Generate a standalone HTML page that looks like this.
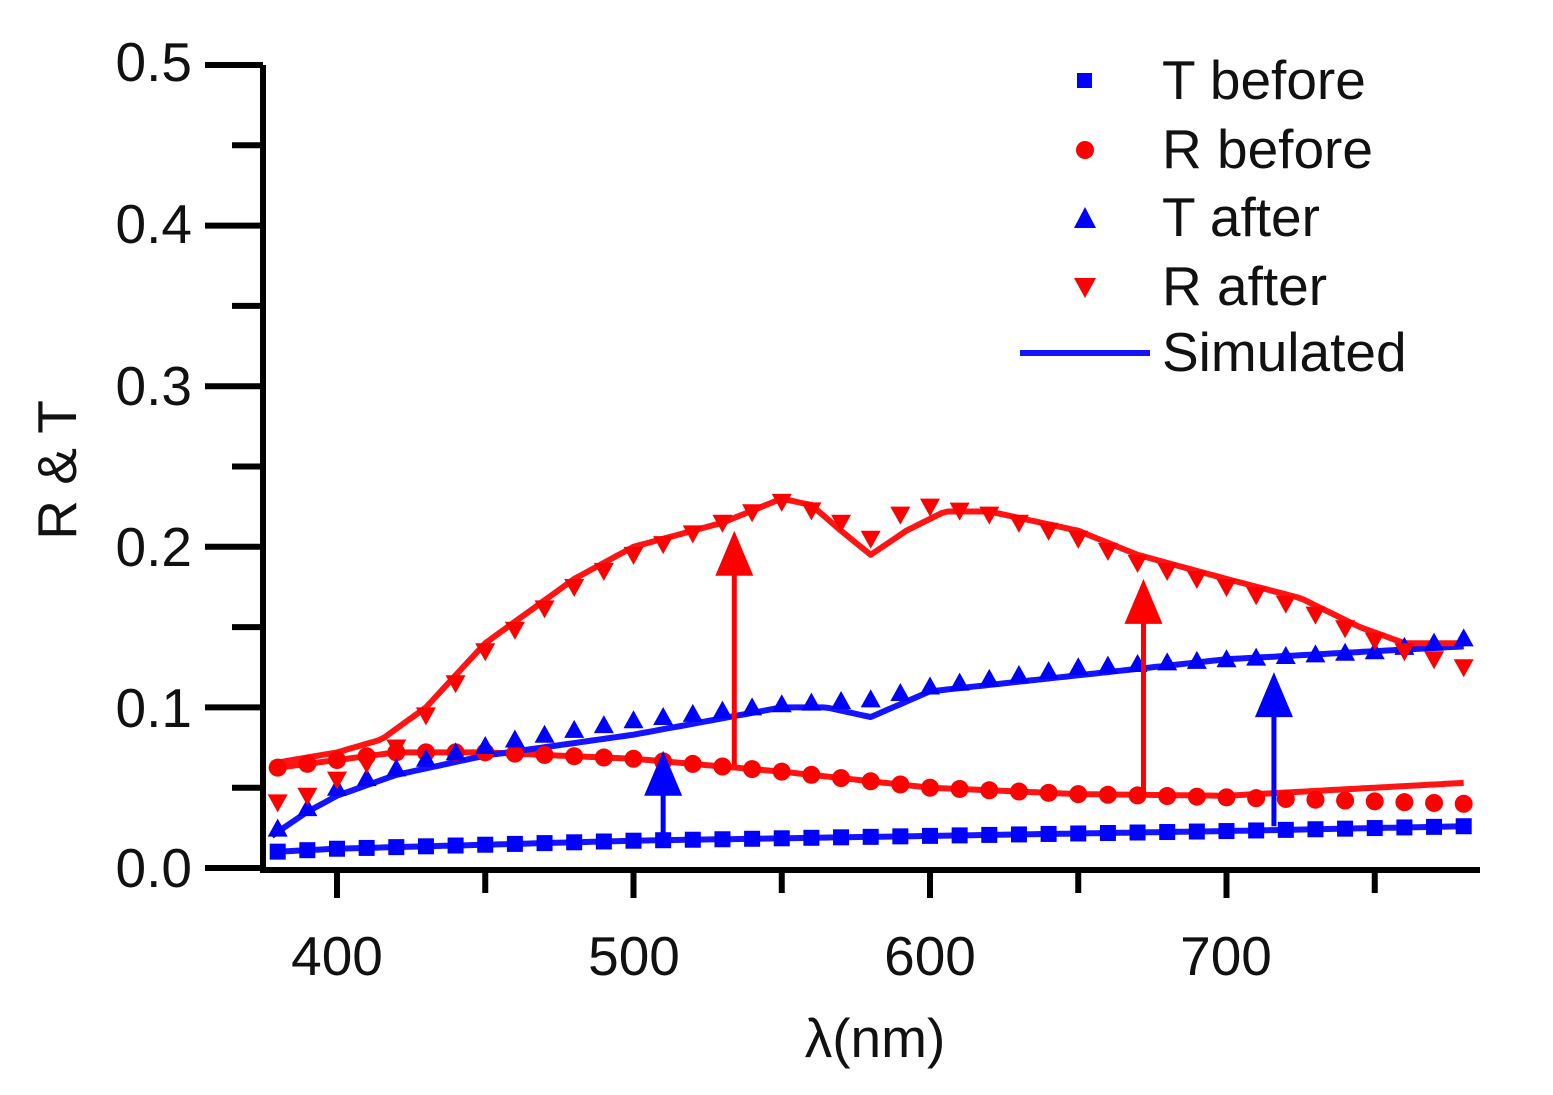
<!DOCTYPE html>
<html><head><meta charset="utf-8"><style>
html,body{margin:0;padding:0;background:#fff;}
svg{display:block;}
text{font-family:"Liberation Sans",sans-serif;}
</style></head><body>
<svg id="s" width="1553" height="1095" xmlns="http://www.w3.org/2000/svg">
<g font-size="55" fill="#111">
<text x="192" y="81" text-anchor="end">0.5</text>
<text x="192" y="243" text-anchor="end">0.4</text>
<text x="192" y="405" text-anchor="end">0.3</text>
<text x="192" y="566" text-anchor="end">0.2</text>
<text x="192" y="727" text-anchor="end">0.1</text>
<text x="192" y="887" text-anchor="end">0.0</text>
<text x="337" y="975" text-anchor="middle">400</text>
<text x="634" y="975" text-anchor="middle">500</text>
<text x="930" y="975" text-anchor="middle">600</text>
<text x="1226" y="975" text-anchor="middle">700</text>
<text x="875" y="1057" text-anchor="middle">λ(nm)</text>
<text transform="translate(76,470) rotate(-90)" text-anchor="middle">R &amp; T</text>
<text x="1162" y="99">T before</text>
<text x="1162" y="168">R before</text>
<text x="1162" y="236">T after</text>
<text x="1162" y="305">R after</text>
<text x="1162" y="371">Simulated</text>
</g>
<g id="plot"></g>
</svg>
<script>
const X=l=>337+(l-400)*2.965, Y=v=>868-v*1606;
const g=document.getElementById('plot');let h='';
function interp(p,l){for(let i=0;i<p.length-1;i++){if(l<=p[i+1][0]){const t=(l-p[i][0])/(p[i+1][0]-p[i][0]);return p[i][1]+t*(p[i+1][1]-p[i][1]);}}return p[p.length-1][1];}
function line(p,c){let d='';for(let l=378;l<=780;l+=2){d+=(d?'L':'M')+X(l).toFixed(1)+','+Y(interp(p,l)).toFixed(1);}h+=`<path d="${d}" fill="none" stroke="${c}" stroke-width="6" stroke-linejoin="round"/>`;}
const Tb=[[378,0.01],[400,0.012],[500,0.017],[600,0.02],[700,0.023],[780,0.026]];
const Rb=[[378,0.062],[420,0.072],[450,0.072],[500,0.068],[550,0.06],[600,0.05],[650,0.046],[700,0.045],[780,0.053]];
const Rbm=[[378,0.062],[420,0.072],[450,0.072],[500,0.068],[550,0.06],[600,0.05],[650,0.046],[700,0.044],[780,0.04]];
const Ta=[[378,0.02],[390,0.035],[400,0.045],[420,0.058],[450,0.07],[500,0.083],[550,0.1],[565,0.1],[580,0.094],[600,0.11],[650,0.12],[700,0.13],[750,0.135],[780,0.138]];
const Tam=[[378,0.022],[400,0.05],[430,0.068],[460,0.08],[500,0.092],[550,0.102],[580,0.105],[600,0.113],[650,0.125],[700,0.13],[750,0.135],[780,0.143]];
const Ra=[[378,0.065],[400,0.072],[415,0.08],[430,0.1],[450,0.14],[480,0.18],[500,0.2],[530,0.215],[550,0.23],[560,0.226],[570,0.21],[580,0.195],[592,0.21],[605,0.222],[620,0.222],[650,0.21],[670,0.195],[700,0.18],[725,0.168],[745,0.15],[760,0.14],[780,0.14]];
const Ram=[[378,0.04],[390,0.045],[400,0.055],[410,0.065],[420,0.075],[430,0.095],[450,0.135],[480,0.175],[500,0.195],[530,0.215],[550,0.228],[565,0.22],[580,0.205],[590,0.22],[600,0.225],[620,0.22],[650,0.205],[670,0.19],[700,0.175],[725,0.162],[745,0.145],[760,0.135],[780,0.125]];
line(Tb,'#1414ff');line(Rb,'#ff1414');line(Ta,'#1414ff');line(Ra,'#ff1414');
for(let l=380;l<=780;l+=10){
 let x=X(l),y;
 y=Y(interp(Tb,l));h+=`<rect x="${x-8}" y="${y-8}" width="16" height="16" fill="#0000ff"/>`;
 y=Y(interp(Rbm,l));h+=`<circle cx="${x}" cy="${y}" r="9" fill="#ff0000"/>`;
 y=Y(interp(Tam,l));h+=`<polygon points="${x},${y-10} ${x-10},${y+8} ${x+10},${y+8}" fill="#0000ff"/>`;
 y=Y(interp(Ram,l));h+=`<polygon points="${x},${y+10} ${x-10},${y-8} ${x+10},${y-8}" fill="#ff0000"/>`;
}
function arrow(l,v0,v1,c){const x=X(l),y0=Y(v0),y1=Y(v1);h+=`<line x1="${x}" y1="${y0}" x2="${x}" y2="${y1+40}" stroke="${c}" stroke-width="5"/><polygon points="${x},${y1} ${x-19},${y1+45} ${x+19},${y1+45}" fill="${c}"/>`;}
arrow(534,0.064,0.21,'#ff0000');arrow(672,0.045,0.18,'#ff0000');arrow(510,0.018,0.073,'#0000ff');arrow(716,0.026,0.122,'#0000ff');
h+=`<path d="M263,65 V870 H1480" fill="none" stroke="#000" stroke-width="6"/>`;
for(let i=0;i<=10;i++){const y=868-i*80.3;h+=`<line x1="${i%2?232:205}" y1="${y}" x2="263" y2="${y}" stroke="#000" stroke-width="6"/>`;}
for(let l=400;l<=750;l+=50){const x=X(l);h+=`<line x1="${x}" y1="868" x2="${x}" y2="${l%100?893:898}" stroke="#000" stroke-width="6"/>`;}
h+=`<rect x="1077" y="73" width="15" height="15" fill="#0000ff"/><circle cx="1085" cy="150" r="9" fill="#ff0000"/><polygon points="1085,207 1074,228 1096,228" fill="#0000ff"/><polygon points="1085,298 1074,278 1096,278" fill="#ff0000"/><line x1="1020" y1="353" x2="1150" y2="353" stroke="#1414ff" stroke-width="6"/>`;
g.innerHTML=h;
</script>
</body></html>
